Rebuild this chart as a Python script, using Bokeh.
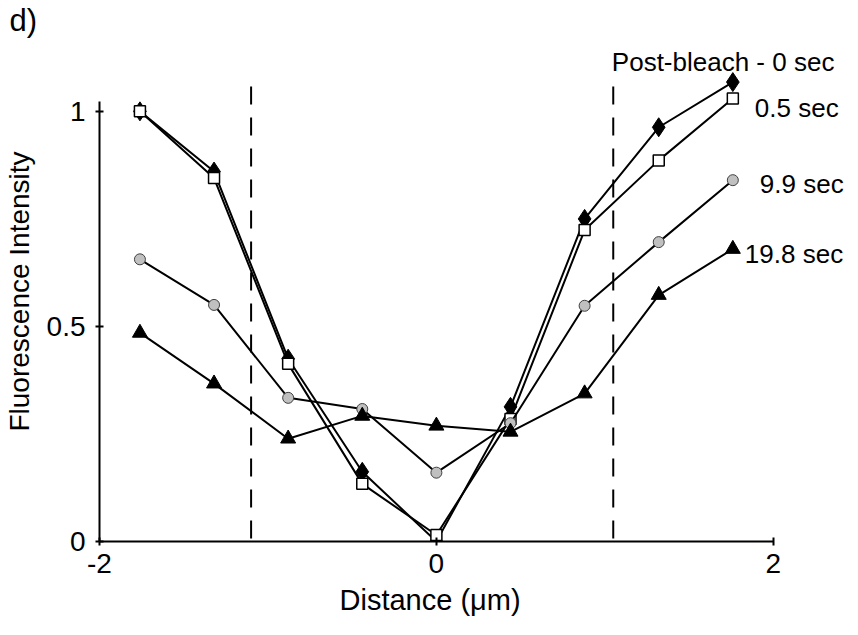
from bokeh.plotting import figure
from bokeh.models import Range1d, FixedTicker, Label, Title
from bokeh.embed import file_html
from bokeh.resources import INLINE

# ---- data ----
distance = [-1.76, -1.32, -0.88, -0.44, 0.0, 0.44, 0.88, 1.32, 1.76]
t0 = [1.0, 0.86, 0.425, 0.162, 0.0, 0.313, 0.75, 0.963, 1.068]
t05 = [1.0, 0.845, 0.413, 0.134, 0.015, 0.285, 0.724, 0.886, 1.03]
t99 = [0.656, 0.55, 0.334, 0.308, 0.16, 0.275, 0.548, 0.696, 0.84]
t198 = [0.485, 0.367, 0.239, 0.292, 0.269, 0.255, 0.344, 0.573, 0.68]
series_labels = ["Post-bleach - 0 sec", "0.5 sec", "9.9 sec", "19.8 sec"]
bleach_edges = [-1.1, 1.05]
bleach_top = 1.058
x_ticks = [-2, 0, 2]
y_ticks = [0, 0.5, 1]

FONT = "Liberation Sans"

p = figure(width=858, height=635,
           x_range=Range1d(-2.0, 2.506), y_range=Range1d(0, 1.1624),
           output_backend="svg", toolbar_location=None,
           min_border_left=92, min_border_right=0,
           min_border_top=40, min_border_bottom=94)
p.outline_line_color = None
p.xgrid.visible = False
p.ygrid.visible = False
p.background_fill_color = "white"
p.border_fill_color = "white"

for ax in (p.xaxis[0], p.yaxis[0]):
    ax.axis_line_width = 2
    ax.axis_line_color = "black"
    ax.major_tick_line_width = 2
    ax.major_tick_in = 4
    ax.major_tick_out = 4
    ax.minor_tick_line_color = None
    ax.major_label_text_font = FONT
    ax.major_label_text_font_size = "28px"
    ax.major_label_text_color = "black"
    ax.axis_label_text_font = FONT
    ax.axis_label_text_font_size = "28px"
    ax.axis_label_text_font_style = "normal"
    ax.axis_label_text_color = "black"

p.xaxis.ticker = FixedTicker(ticks=x_ticks)
p.yaxis.ticker = FixedTicker(ticks=y_ticks)
p.xaxis.bounds = (x_ticks[0], x_ticks[-1])
p.yaxis.bounds = (0, 1.023)
p.xaxis.major_label_overrides = {-2: "-2", 0: "0", 2: "2"}
p.yaxis.major_label_overrides = {0: "0", 0.5: "0.5", 1: "1"}
p.yaxis.axis_label = "Fluorescence Intensity"
p.xaxis.major_label_standoff = 8
p.yaxis.major_label_standoff = 10
p.yaxis.axis_label_standoff = 9

# x-axis title (centred under the axis line, which ends at x = 2)
p.add_layout(Title(text="Distance (\u03bcm)", align="left", offset=240,
                   text_font=FONT, text_font_size="29px", text_font_style="normal",
                   text_color="black", standoff=12), "below")
# panel letter
p.add_layout(Title(text="d)", align="left", offset=-90, vertical_align="top",
                   text_font=FONT, text_font_size="31px", text_font_style="normal",
                   text_color="black", standoff=4), "above")

# bleach region boundaries
p.segment(x0=bleach_edges, y0=[bleach_top] * 2, x1=bleach_edges, y1=[0, 0],
          line_color="black", line_width=2, line_dash="18 13")

# series
p.line(distance, t0, line_color="black", line_width=2)
p.scatter(distance, t0, marker="diamond", size=19, fill_color="black", line_color="black")
p.line(distance, t05, line_color="black", line_width=2)
p.scatter(distance, t05, marker="square", size=11, fill_color="white", line_color="black", line_width=1.5)
p.line(distance, t99, line_color="black", line_width=2)
p.scatter(distance, t99, marker="circle", size=11, fill_color="#c0c0c0", line_color="#404040", line_width=1)
p.line(distance, t198, line_color="black", line_width=2)
p.scatter(distance, t198, marker="triangle", size=15, fill_color="black", line_color="black")

# series labels, anchored to the last point of each series
offsets = [(-121, 20), (22, -10), (27, -4), (12, -5)]
for lab, ser, (dx, dy) in zip(series_labels, [t0, t05, t99, t198], offsets):
    p.add_layout(Label(x=distance[-1], y=ser[-1], x_offset=dx, y_offset=dy, text=lab,
                       text_font=FONT, text_font_size="26px", text_color="black",
                       text_baseline="alphabetic", text_align="left"))

open("out.html", "w").write(file_html(p, INLINE))
